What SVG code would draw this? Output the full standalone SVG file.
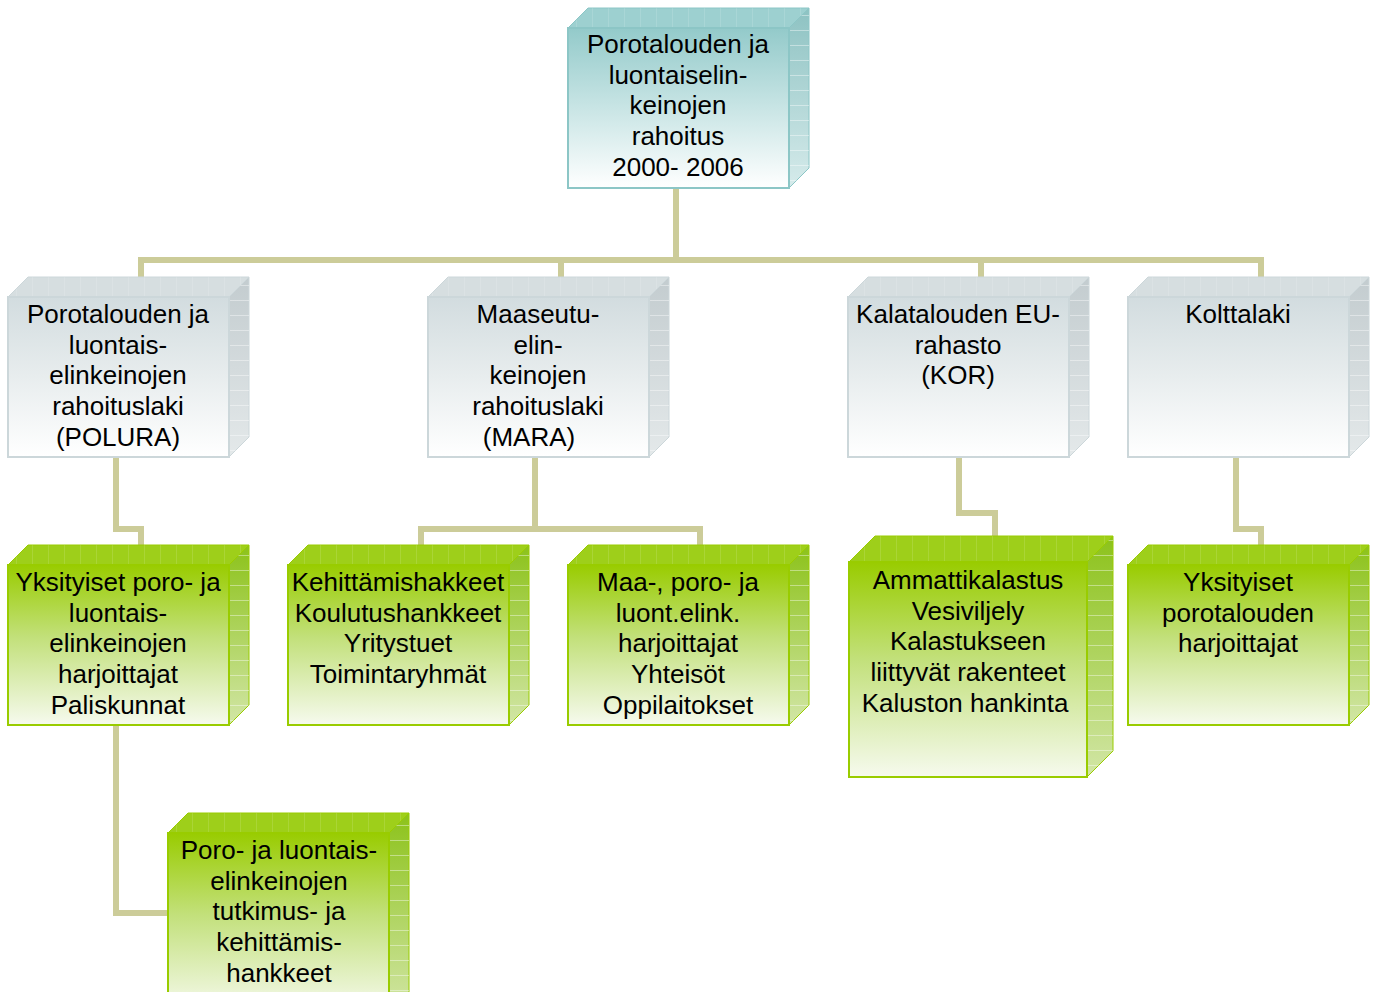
<svg xmlns="http://www.w3.org/2000/svg" width="1379" height="992" viewBox="0 0 1379 992">
<defs>
<linearGradient id="gTeal" x1="0" y1="0" x2="0" y2="1"><stop offset="0" stop-color="#93CACA"/><stop offset="0.45" stop-color="#C3E2E2"/><stop offset="1" stop-color="#FFFFFF"/></linearGradient>
<linearGradient id="gGray" x1="0" y1="0" x2="0" y2="1"><stop offset="0" stop-color="#D2DCDF"/><stop offset="0.5" stop-color="#E8EDEE"/><stop offset="1" stop-color="#FFFFFF"/></linearGradient>
<linearGradient id="gGreen" x1="0" y1="0" x2="0" y2="1"><stop offset="0" stop-color="#99CC00"/><stop offset="0.45" stop-color="#C2E07A"/><stop offset="1" stop-color="#F6FAEE"/></linearGradient>
<linearGradient id="sTeal" x1="0" y1="0" x2="0" y2="1"><stop offset="0" stop-color="#8DC2C2"/><stop offset="1" stop-color="#D6EBEB"/></linearGradient>
<linearGradient id="sGray" x1="0" y1="0" x2="0" y2="1"><stop offset="0" stop-color="#C3CCCF"/><stop offset="1" stop-color="#E4E9EA"/></linearGradient>
<linearGradient id="sGreen" x1="0" y1="0" x2="0" y2="1"><stop offset="0" stop-color="#8CC21A"/><stop offset="1" stop-color="#D2E6A6"/></linearGradient>
<pattern id="grid" patternUnits="userSpaceOnUse" width="10" height="15"><path d="M0 0.5H10" stroke="#FFFFFF" stroke-opacity="0.4" stroke-width="1"/></pattern>
<pattern id="vgrid" patternUnits="userSpaceOnUse" width="16" height="10"><path d="M0.5 0V10" stroke="#FFFFFF" stroke-opacity="0.12" stroke-width="1"/></pattern>
</defs>
<style>
.conn{fill:none;stroke:#CCCC99;stroke-width:6;stroke-linejoin:miter}
.t{font-family:"Liberation Sans",Arial,sans-serif;font-size:26px;fill:#000;text-anchor:middle}
.teal .front{fill:url(#gTeal);stroke:#8CC6C6;stroke-width:2}
.teal .top{fill:#9DD0D0;stroke:#8CC6C6;stroke-width:1}
.teal .side{fill:url(#sTeal);stroke:#8CC6C6;stroke-width:1}
.gray .front{fill:url(#gGray);stroke:#CCD7DA;stroke-width:2}
.gray .top{fill:#D6DEE0;stroke:#CCD7DA;stroke-width:1}
.gray .side{fill:url(#sGray);stroke:#CCD7DA;stroke-width:1}
.green .front{fill:url(#gGreen);stroke:#99CC00;stroke-width:2}
.green .top{fill:#9ECF1A;stroke:#99CC00;stroke-width:1}
.green .side{fill:url(#sGreen);stroke:#99CC00;stroke-width:1}
.gl{fill:url(#grid);stroke:none}
.vl{fill:url(#vgrid);stroke:none}
</style>
<rect width="1379" height="992" fill="#FFFFFF"/>
<g id="connectors">
<path class="conn" d="M676 188V260"/>
<path class="conn" d="M141 277V260H1261V277"/>
<path class="conn" d="M561 260V277"/>
<path class="conn" d="M981 260V277"/>
<path class="conn" d="M116 457V529H141V545"/>
<path class="conn" d="M535 457V529"/>
<path class="conn" d="M421 545V529H700V545"/>
<path class="conn" d="M959 457V513H995V536"/>
<path class="conn" d="M1236 457V529H1261V545"/>
<path class="conn" d="M116 725V913H168"/>
</g>
<g id="n-root" class="teal">
<polygon class="top" points="568,28 588,8 809,8 789,28"/><polygon class="vl" points="568,28 588,8 809,8 789,28"/>
<polygon class="side" points="789,28 809,8 809,168 789,188"/><polygon class="gl" points="789,28 809,8 809,168 789,188"/>
<rect class="front" x="568" y="28" width="221" height="160"/>
<text class="t" y="53"><tspan x="678">Porotalouden ja</tspan><tspan x="678" dy="30.7">luontaiselin-</tspan><tspan x="678" dy="30.7">keinojen</tspan><tspan x="678" dy="30.7">rahoitus</tspan><tspan x="678" dy="30.7">2000- 2006</tspan></text>
</g>
<g id="n-polura" class="gray">
<polygon class="top" points="8,297 28,277 249,277 229,297"/><polygon class="vl" points="8,297 28,277 249,277 229,297"/>
<polygon class="side" points="229,297 249,277 249,437 229,457"/><polygon class="gl" points="229,297 249,277 249,437 229,457"/>
<rect class="front" x="8" y="297" width="221" height="160"/>
<text class="t" y="323"><tspan x="118">Porotalouden ja</tspan><tspan x="118" dy="30.7">luontais-</tspan><tspan x="118" dy="30.7">elinkeinojen</tspan><tspan x="118" dy="30.7">rahoituslaki</tspan><tspan x="118" dy="30.7">(POLURA)</tspan></text>
</g>
<g id="n-mara" class="gray">
<polygon class="top" points="428,297 448,277 669,277 649,297"/><polygon class="vl" points="428,297 448,277 669,277 649,297"/>
<polygon class="side" points="649,297 669,277 669,437 649,457"/><polygon class="gl" points="649,297 669,277 669,437 649,457"/>
<rect class="front" x="428" y="297" width="221" height="160"/>
<text class="t" y="323"><tspan x="538">Maaseutu-</tspan><tspan x="538" dy="30.7">elin-</tspan><tspan x="538" dy="30.7">keinojen</tspan><tspan x="538" dy="30.7">rahoituslaki</tspan><tspan x="529" dy="30.7">(MARA)</tspan></text>
</g>
<g id="n-kor" class="gray">
<polygon class="top" points="848,297 868,277 1089,277 1069,297"/><polygon class="vl" points="848,297 868,277 1089,277 1069,297"/>
<polygon class="side" points="1069,297 1089,277 1089,437 1069,457"/><polygon class="gl" points="1069,297 1089,277 1089,437 1069,457"/>
<rect class="front" x="848" y="297" width="221" height="160"/>
<text class="t" y="323"><tspan x="958">Kalatalouden EU-</tspan><tspan x="958" dy="30.7">rahasto</tspan><tspan x="958" dy="30.7">(KOR)</tspan></text>
</g>
<g id="n-koltta" class="gray">
<polygon class="top" points="1128,297 1148,277 1369,277 1349,297"/><polygon class="vl" points="1128,297 1148,277 1369,277 1349,297"/>
<polygon class="side" points="1349,297 1369,277 1369,437 1349,457"/><polygon class="gl" points="1349,297 1369,277 1369,437 1349,457"/>
<rect class="front" x="1128" y="297" width="221" height="160"/>
<text class="t" y="323"><tspan x="1238">Kolttalaki</tspan></text>
</g>
<g id="n-yks" class="green">
<polygon class="top" points="8,565 28,545 249,545 229,565"/><polygon class="vl" points="8,565 28,545 249,545 229,565"/>
<polygon class="side" points="229,565 249,545 249,705 229,725"/><polygon class="gl" points="229,565 249,545 249,705 229,725"/>
<rect class="front" x="8" y="565" width="221" height="160"/>
<text class="t" y="591"><tspan x="118">Yksityiset poro- ja</tspan><tspan x="118" dy="30.7">luontais-</tspan><tspan x="118" dy="30.7">elinkeinojen</tspan><tspan x="118" dy="30.7">harjoittajat</tspan><tspan x="118" dy="30.7">Paliskunnat</tspan></text>
</g>
<g id="n-keh" class="green">
<polygon class="top" points="288,565 308,545 529,545 509,565"/><polygon class="vl" points="288,565 308,545 529,545 509,565"/>
<polygon class="side" points="509,565 529,545 529,705 509,725"/><polygon class="gl" points="509,565 529,545 529,705 509,725"/>
<rect class="front" x="288" y="565" width="221" height="160"/>
<text class="t" y="591"><tspan x="398">Kehittämishakkeet</tspan><tspan x="398" dy="30.7">Koulutushankkeet</tspan><tspan x="398" dy="30.7">Yritystuet</tspan><tspan x="398" dy="30.7">Toimintaryhmät</tspan></text>
</g>
<g id="n-maa" class="green">
<polygon class="top" points="568,565 588,545 809,545 789,565"/><polygon class="vl" points="568,565 588,545 809,545 789,565"/>
<polygon class="side" points="789,565 809,545 809,705 789,725"/><polygon class="gl" points="789,565 809,545 809,705 789,725"/>
<rect class="front" x="568" y="565" width="221" height="160"/>
<text class="t" y="591"><tspan x="678">Maa-, poro- ja</tspan><tspan x="678" dy="30.7">luont.elink.</tspan><tspan x="678" dy="30.7">harjoittajat</tspan><tspan x="678" dy="30.7">Yhteisöt</tspan><tspan x="678" dy="30.7">Oppilaitokset</tspan></text>
</g>
<g id="n-amm" class="green">
<polygon class="top" points="849,562 875,536 1113,536 1087,562"/><polygon class="vl" points="849,562 875,536 1113,536 1087,562"/>
<polygon class="side" points="1087,562 1113,536 1113,751 1087,777"/><polygon class="gl" points="1087,562 1113,536 1113,751 1087,777"/>
<rect class="front" x="849" y="562" width="238" height="215"/>
<text class="t" y="589"><tspan x="968">Ammattikalastus</tspan><tspan x="968" dy="30.7">Vesiviljely</tspan><tspan x="968" dy="30.7">Kalastukseen</tspan><tspan x="968" dy="30.7">liittyvät rakenteet</tspan><tspan x="965" dy="30.7">Kaluston hankinta</tspan></text>
</g>
<g id="n-yks2" class="green">
<polygon class="top" points="1128,565 1148,545 1369,545 1349,565"/><polygon class="vl" points="1128,565 1148,545 1369,545 1349,565"/>
<polygon class="side" points="1349,565 1369,545 1369,705 1349,725"/><polygon class="gl" points="1349,565 1369,545 1369,705 1349,725"/>
<rect class="front" x="1128" y="565" width="221" height="160"/>
<text class="t" y="591"><tspan x="1238">Yksityiset</tspan><tspan x="1238" dy="30.7">porotalouden</tspan><tspan x="1238" dy="30.7">harjoittajat</tspan></text>
</g>
<g id="n-poro" class="green">
<polygon class="top" points="168,833 188,813 409,813 389,833"/><polygon class="vl" points="168,833 188,813 409,813 389,833"/>
<polygon class="side" points="389,833 409,813 409,993 389,1013"/><polygon class="gl" points="389,833 409,813 409,993 389,1013"/>
<rect class="front" x="168" y="833" width="221" height="180"/>
<text class="t" y="859"><tspan x="279">Poro- ja luontais-</tspan><tspan x="279" dy="30.7">elinkeinojen</tspan><tspan x="279" dy="30.7">tutkimus- ja</tspan><tspan x="279" dy="30.7">kehittämis-</tspan><tspan x="279" dy="30.7">hankkeet</tspan></text>
</g>
</svg>
